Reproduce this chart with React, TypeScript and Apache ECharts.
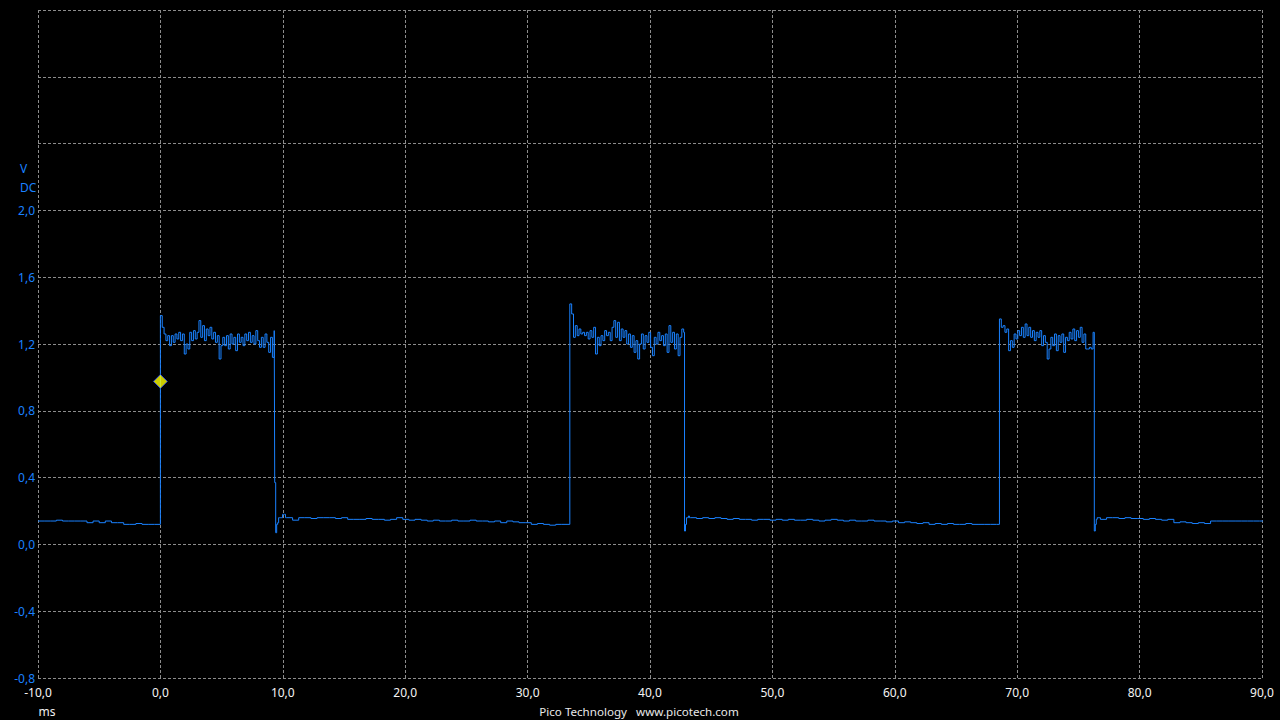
import { useEffect, useRef } from "react";
import * as echarts from "echarts";

// ---- Axis ranges / ticks ----
const xMin = -10;
const xMax = 90;
const xStep = 10;
const yMin = -0.8;
const yMax = 3.2;
const yStep = 0.4;
const yLabelTop = 2.0; // labels only shown up to this value

// ---- Channel A samples (volts), read from the capture ----
// pre-trigger low level, from -10 ms, every 0.5 ms
const lowPre = [0.14, 0.14, 0.14, 0.145, 0.14, 0.14, 0.14, 0.14, 0.13, 0.14, 0.13, 0.14, 0.13, 0.13, 0.12, 0.12, 0.125, 0.12, 0.12, 0.12, 0.12];
// first pulse, from 0 ms, every 0.15 ms
const pulse1 = [1.37, 1.3, 1.26, 1.22, 1.25, 1.19, 1.25, 1.21, 1.26, 1.23, 1.27, 1.22, 1.26, 1.14, 1.2, 1.17, 1.27, 1.22, 1.28, 1.23, 1.27, 1.34, 1.24, 1.31, 1.22, 1.29, 1.25, 1.3, 1.23, 1.27, 1.21, 1.25, 1.11, 1.19, 1.24, 1.19, 1.25, 1.17, 1.26, 1.2, 1.24, 1.16, 1.26, 1.21, 1.24, 1.19, 1.26, 1.22, 1.27, 1.21, 1.25, 1.2, 1.28, 1.22, 1.18, 1.24, 1.18, 1.26, 1.21, 1.15, 1.24, 1.12, 1.28];
// falling edge transient, from 9.34 ms, every 0.08 ms
const fall1 = [0.37, 0.07, 0.12, 0.13, 0.16, 0.16, 0.16, 0.16, 0.18, 0.18, 0.18, 0.16];
// low level, from 10.3 ms, every 0.5 ms
const low1 = [0.16, 0.145, 0.16, 0.16, 0.155, 0.16, 0.16, 0.16, 0.155, 0.16, 0.15, 0.15, 0.15, 0.155, 0.15, 0.15, 0.145, 0.15, 0.16, 0.15, 0.145, 0.15, 0.145, 0.14, 0.145, 0.14, 0.14, 0.145, 0.14, 0.14, 0.145, 0.14, 0.14, 0.135, 0.14, 0.13, 0.14, 0.135, 0.13, 0.13, 0.12, 0.125, 0.12, 0.115, 0.12, 0.12, 0.12];
// second pulse, from 33.45 ms, every 0.15 ms
const pulse2 = [1.44, 1.38, 1.24, 1.31, 1.25, 1.29, 1.26, 1.27, 1.25, 1.27, 1.23, 1.28, 1.24, 1.3, 1.14, 1.24, 1.19, 1.25, 1.22, 1.28, 1.25, 1.27, 1.22, 1.3, 1.34, 1.24, 1.33, 1.22, 1.29, 1.24, 1.28, 1.2, 1.26, 1.18, 1.25, 1.15, 1.22, 1.11, 1.2, 1.26, 1.17, 1.25, 1.21, 1.27, 1.18, 1.13, 1.24, 1.2, 1.27, 1.22, 1.25, 1.19, 1.26, 1.15, 1.31, 1.21, 1.27, 1.17, 1.26, 1.13, 1.24, 1.29, 1.27];
// falling edge transient, from 42.82 ms, every 0.08 ms
const fall2 = [0.08, 0.12, 0.16, 0.16, 0.17, 0.16];
// low level, from 43.3 ms, every 0.5 ms
const low2 = [0.16, 0.155, 0.16, 0.155, 0.16, 0.155, 0.15, 0.155, 0.15, 0.15, 0.145, 0.15, 0.15, 0.145, 0.15, 0.145, 0.15, 0.145, 0.145, 0.15, 0.145, 0.14, 0.145, 0.15, 0.145, 0.14, 0.145, 0.14, 0.14, 0.145, 0.14, 0.14, 0.135, 0.14, 0.13, 0.135, 0.13, 0.125, 0.13, 0.12, 0.125, 0.12, 0.125, 0.12, 0.12, 0.125, 0.12, 0.12, 0.12, 0.12, 0.12];
// third pulse, from 68.55 ms, every 0.15 ms
const pulse3 = [1.35, 1.3, 1.31, 1.27, 1.29, 1.16, 1.22, 1.18, 1.26, 1.23, 1.28, 1.25, 1.3, 1.24, 1.32, 1.25, 1.3, 1.24, 1.28, 1.22, 1.27, 1.24, 1.28, 1.19, 1.25, 1.21, 1.11, 1.17, 1.24, 1.19, 1.26, 1.16, 1.25, 1.21, 1.26, 1.15, 1.24, 1.22, 1.27, 1.23, 1.29, 1.22, 1.28, 1.24, 1.3, 1.21, 1.26, 1.17, 1.17, 1.18, 1.17, 1.27];
// falling edge transient, from 76.3 ms, every 0.08 ms
const fall3 = [0.08, 0.12, 0.15, 0.16, 0.16, 0.16];
// low level, from 76.8 ms, every 0.5 ms
const low3 = [0.15, 0.16, 0.16, 0.155, 0.16, 0.155, 0.155, 0.15, 0.155, 0.15, 0.145, 0.15, 0.13, 0.135, 0.13, 0.125, 0.13, 0.125, 0.14, 0.14, 0.14, 0.14, 0.14, 0.14, 0.14, 0.14, 0.14, 0.14];

// segment timebase: [start ms, sample interval ms]
const segments: { start: number; step: number; values: number[] }[] = [
  { start: -10, step: 0.5, values: lowPre },
  { start: 0, step: 0.15, values: pulse1 },
  { start: 9.34, step: 0.08, values: fall1 },
  { start: 10.3, step: 0.5, values: low1 },
  { start: 33.45, step: 0.15, values: pulse2 },
  { start: 42.82, step: 0.08, values: fall2 },
  { start: 43.3, step: 0.5, values: low2 },
  { start: 68.55, step: 0.15, values: pulse3 },
  { start: 76.3, step: 0.08, values: fall3 },
  { start: 76.8, step: 0.5, values: low3 },
];

// trigger marker
const triggerPoint = [0, 0.976];

const traceData: number[][] = segments.flatMap((s) =>
  s.values.map((v, i) => [+(s.start + i * s.step).toFixed(4), v])
);

const fmt = (v: number) => {
  const n = Math.abs(v) < 1e-9 ? 0 : v;
  return n.toFixed(1).replace(".", ",");
};

const FONT = '"Noto Sans", sans-serif';
const BLUE = "#1a82ff";

export default function App() {
  const ref = useRef<HTMLDivElement>(null);
  useEffect(() => {
    const chart = echarts.init(ref.current!, null, { renderer: "svg" });
    const gridLine = { show: true, lineStyle: { color: "#8c8c8c", width: 1, type: [3, 2] as any } };
    chart.setOption({
      animation: false,
      backgroundColor: "#000000",
      textStyle: { fontFamily: FONT },
      grid: { left: 38, right: 18, top: 10, bottom: 42, outerBoundsMode: "none" } as any,
      xAxis: {
        type: "value",
        min: xMin,
        max: xMax,
        interval: xStep,
        axisLine: { show: false },
        axisTick: { show: false },
        splitLine: gridLine,
        axisLabel: { color: "#f4f4f4", fontSize: 12, fontFamily: FONT, margin: 8, formatter: (v: number) => fmt(v) },
      },
      yAxis: {
        type: "value",
        min: yMin,
        max: yMax,
        interval: yStep,
        axisLine: { show: false },
        axisTick: { show: false },
        splitLine: gridLine,
        axisLabel: {
          color: BLUE,
          fontSize: 12,
          fontFamily: FONT,
          margin: 3,
          formatter: (v: number) => (v > yLabelTop + 1e-6 ? "" : fmt(v)),
        },
      },
      series: [
        {
          type: "line",
          data: traceData,
          step: "end",
          showSymbol: false,
          symbol: "none",
          lineStyle: { color: BLUE, width: 1 },
          z: 2,
        },
        {
          type: "scatter",
          data: [triggerPoint],
          symbol: "diamond",
          symbolSize: 14,
          itemStyle: { color: "#ffff00", borderColor: "#2040ff", borderWidth: 1 },
          z: 5,
        },
      ],
      graphic: [
        { type: "text", x: 20, y: 168, style: { text: "V", fill: BLUE, font: `12px ${FONT}`, textAlign: "left", textVerticalAlign: "middle" } },
        { type: "text", x: 20, y: 187, style: { text: "DC", fill: BLUE, font: `12px ${FONT}`, textAlign: "left", textVerticalAlign: "middle" } },
        { type: "text", x: 47, y: 711, style: { text: "ms", fill: "#f0f0f0", font: `12px ${FONT}`, textAlign: "center", textVerticalAlign: "middle" } },
        { type: "text", x: 639, y: 711, style: { text: "Pico Technology   www.picotech.com", fill: "#e8e8e8", font: `11.6px ${FONT}`, textAlign: "center", textVerticalAlign: "middle" } },
      ],
    });
    return () => chart.dispose();
  }, []);
  return (
    <div
      ref={ref}
      style={{ position: "fixed", left: 0, top: 0, width: 1280, height: 720, background: "#000" }}
    />
  );
}
